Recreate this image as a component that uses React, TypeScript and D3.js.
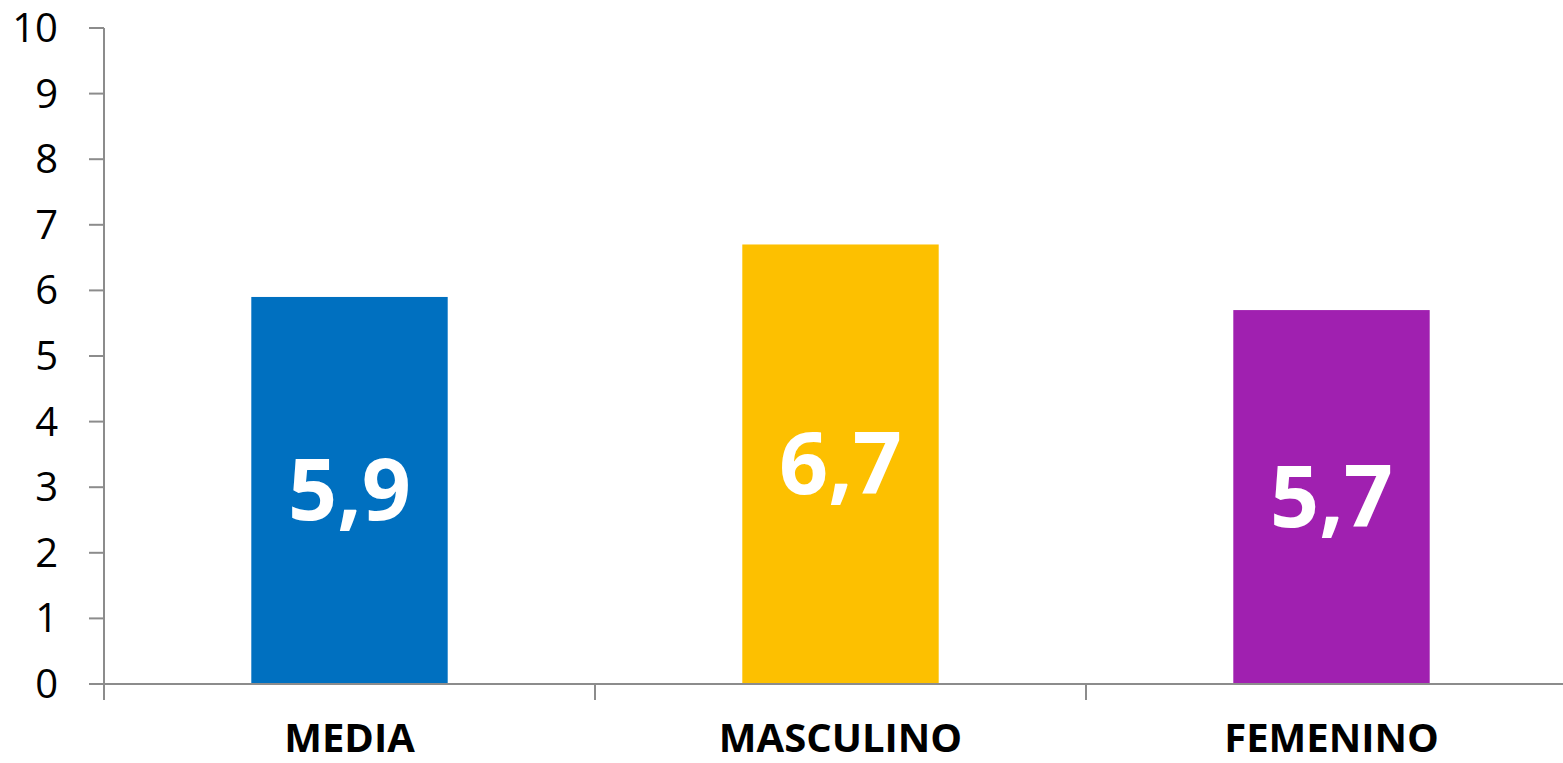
import * as d3 from 'd3'
import { useMemo } from 'react'

const categories = ['MEDIA', 'MASCULINO', 'FEMENINO']
const values = [5.9, 6.7, 5.7]
const barColours = ['#0070c0', '#fdc000', '#a020b0']
const yTicks = [0, 1, 2, 3, 4, 5, 6, 7, 8, 9, 10]

const svgWidth = 1563
const svgHeight = 763

const App = () => {
    const margin = { left: 104, top: 28, bottom: 79 }
    const plotBottom = svgHeight - margin.bottom

    const x = useMemo(() => {
        return d3
            .scaleBand()
            .domain(categories)
            .range([margin.left, margin.left + 3 * 491])
            .paddingInner(0.6)
            .paddingOuter(0.3)
    }, [])

    const band = useMemo(() => {
        return d3
            .scaleBand()
            .domain(categories)
            .range([margin.left, margin.left + 3 * 491])
    }, [])

    const y = useMemo(() => {
        return d3.scaleLinear().domain([0, 10]).range([plotBottom, margin.top])
    }, [])

    const fmt = (v: number) => v.toFixed(1).replace('.', ',')
    const axisColour = '#8c8c8c'

    const bars = categories.map((c, i) => {
        const bx = x(c) as number
        const top = y(values[i])
        const mid = (top + y(0)) / 2
        return (
            <g key={c}>
                <rect x={bx} y={top} width={x.bandwidth()} height={y(0) - top} fill={barColours[i]} />
                <text
                    x={bx + x.bandwidth() / 2}
                    y={mid + 30}
                    textAnchor="middle"
                    fill="#ffffff"
                    fontSize={86}
                    fontWeight="bold"
                >
                    {fmt(values[i])}
                </text>
            </g>
        )
    })

    const yAxis = (
        <g>
            <line x1={margin.left} x2={margin.left} y1={y(10)} y2={plotBottom + 16} stroke={axisColour} strokeWidth={2} />
            {yTicks.map(t => (
                <g key={t}>
                    <line x1={margin.left - 15} x2={margin.left} y1={y(t)} y2={y(t)} stroke={axisColour} strokeWidth={2} />
                    <text x={58} y={y(t) + 14} textAnchor="end" fontSize={40} fill="#000000">
                        {t}
                    </text>
                </g>
            ))}
        </g>
    )

    const xAxis = (
        <g>
            <line x1={margin.left - 15} x2={margin.left + 3 * 491} y1={plotBottom} y2={plotBottom} stroke={axisColour} strokeWidth={2} />
            {categories.map((c, i) => (
                <line
                    key={'t' + i}
                    x1={(band(c) as number) + band.bandwidth()}
                    x2={(band(c) as number) + band.bandwidth()}
                    y1={plotBottom}
                    y2={plotBottom + 16}
                    stroke={axisColour}
                    strokeWidth={2}
                />
            ))}
            {categories.map(c => (
                <text
                    key={c}
                    x={(band(c) as number) + band.bandwidth() / 2}
                    y={752}
                    textAnchor="middle"
                    fontSize={40}
                    fontWeight="bold"
                    fill="#000000"
                >
                    {c}
                </text>
            ))}
        </g>
    )

    return (
        <svg
            width={svgWidth}
            height={svgHeight}
            style={{ position: 'absolute', left: 0, top: 0, fontFamily: '"Open Sans", sans-serif' }}
        >
            <rect width={svgWidth} height={svgHeight} fill="#ffffff" />
            {bars}
            {yAxis}
            {xAxis}
        </svg>
    )
}

export default App
